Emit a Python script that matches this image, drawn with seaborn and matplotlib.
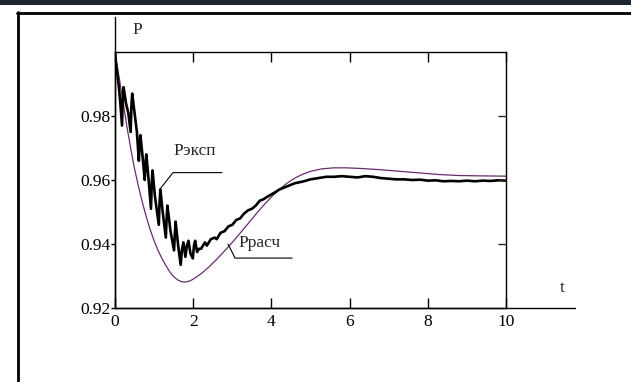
import matplotlib
matplotlib.use("Agg")
import matplotlib.pyplot as plt
import seaborn as sns
import pandas as pd
from matplotlib.lines import Line2D
from matplotlib.patches import Rectangle

# ---- data ----
t_exp = [0.00, 0.02, 0.06, 0.10, 0.13, 0.18, 0.20, 0.22, 0.28, 0.34, 0.40, 0.42, 0.44,
         0.50, 0.56, 0.61, 0.63, 0.65, 0.70, 0.76, 0.78, 0.80, 0.86, 0.92, 0.94, 0.96,
         1.02, 1.12, 1.14, 1.16, 1.22, 1.30, 1.32, 1.34, 1.42, 1.51, 1.53, 1.55, 1.62,
         1.68, 1.71, 1.75, 1.80, 1.84, 1.88, 1.93, 1.99, 2.02, 2.05, 2.10, 2.15, 2.20,
         2.30, 2.35, 2.45, 2.55, 2.60, 2.70, 2.80, 2.90, 3.00, 3.10, 3.20, 3.30, 3.40,
         3.50, 3.60, 3.70, 3.80, 3.90, 4.00, 4.10, 4.20, 4.30, 4.40, 4.50, 4.60, 4.80,
         5.00, 5.20, 5.40, 5.60, 5.80, 6.00, 6.20, 6.40, 6.60, 6.80, 7.00, 7.20, 7.40,
         7.60, 7.80, 8.00, 8.20, 8.40, 8.60, 8.80, 9.00, 9.20, 9.40, 9.60, 9.80, 10.00]
p_exp = [1.000, 0.997, 0.993, 0.989, 0.985, 0.977, 0.986, 0.989, 0.984, 0.981, 0.975, 0.983, 0.987,
         0.981, 0.975, 0.966, 0.971, 0.974, 0.968, 0.960, 0.965, 0.968, 0.960, 0.951, 0.959, 0.963,
         0.955, 0.946, 0.953, 0.957, 0.950, 0.942, 0.948, 0.952, 0.944, 0.938, 0.943, 0.947, 0.939,
         0.9335, 0.938, 0.9405, 0.936, 0.9395, 0.941, 0.937, 0.9355, 0.9395, 0.941, 0.9375, 0.9385, 0.9385,
         0.9405, 0.9395, 0.9415, 0.9420, 0.9415, 0.9435, 0.9440, 0.9455, 0.9460, 0.9475, 0.9480, 0.9495, 0.9505,
         0.9510, 0.9520, 0.9535, 0.9540, 0.9548, 0.9555, 0.9562, 0.9570, 0.9575, 0.9580, 0.9585, 0.9590, 0.9595,
         0.9602, 0.9606, 0.9610, 0.9610, 0.9612, 0.9610, 0.9608, 0.9612, 0.9610, 0.9606, 0.9604, 0.9602, 0.9602,
         0.9600, 0.9601, 0.9598, 0.9599, 0.9596, 0.9597, 0.9596, 0.9598, 0.9596, 0.9598, 0.9597, 0.9599, 0.9598]

t_calc = [0.0, 0.1, 0.2, 0.3, 0.4, 0.5, 0.6, 0.7, 0.8, 0.9, 1.0, 1.1, 1.2, 1.3, 1.4, 1.5,
          1.6, 1.7, 1.8, 1.9, 2.0, 2.2, 2.4, 2.6, 2.8, 3.0, 3.2, 3.4, 3.6, 3.8, 4.0, 4.2,
          4.4, 4.6, 4.8, 5.0, 5.3, 5.6, 5.9, 6.3, 6.8, 7.3, 7.8, 8.3, 8.8, 9.3, 10.0]
p_calc = [1.0, 0.9925, 0.985, 0.977, 0.970, 0.9635, 0.958, 0.953, 0.9485, 0.9445, 0.941, 0.938,
          0.9355, 0.9333, 0.9313, 0.9298, 0.9288, 0.9282, 0.9281, 0.9284, 0.9290, 0.9307, 0.9328,
          0.9352, 0.9378, 0.9405, 0.9434, 0.9463, 0.9493, 0.9521, 0.9547, 0.9570, 0.9590, 0.9606,
          0.9618, 0.9627, 0.9635, 0.9638, 0.9638, 0.9636, 0.9632, 0.9627, 0.9622, 0.9617, 0.9614,
          0.9613, 0.9612]

x_ticks = [0, 2, 4, 6, 8, 10]
y_ticks = [0.92, 0.94, 0.96, 0.98]
y_tick_labels = ["0.92", "0.94", "0.96", "0.98"]
label_exp = "Рэксп"
label_calc = "Ррасч"

sns.set_style("white")
plt.rcParams["font.family"] = ["Liberation Serif", "DejaVu Serif"]

W, H = 631, 382
fig = plt.figure(figsize=(W / 100, H / 100), dpi=100)
fig.patch.set_facecolor("white")

def fx(px):
    return px / W

def fy(py):
    return 1 - py / H

# screenshot frame decorations
fig.add_artist(Rectangle((0, fy(5)), 1, 5 / H, transform=fig.transFigure,
                         facecolor="#1e2530", edgecolor="none"))
fig.add_artist(Line2D([fx(17), 1], [fy(12.5), fy(12.5)], transform=fig.transFigure,
                      color="black", lw=2))
fig.add_artist(Line2D([fx(17.5), fx(17.5)], [fy(12), 0], transform=fig.transFigure,
                      color="black", lw=2))

left, right, top, bottom = 115, 506, 52, 308
ax = fig.add_axes([fx(left), fy(bottom), (right - left) / W, (bottom - top) / H])
ax.set_facecolor("white")

df_exp = pd.DataFrame({"t": t_exp, "P": p_exp})
df_calc = pd.DataFrame({"t": t_calc, "P": p_calc})

sns.lineplot(data=df_calc, x="t", y="P", ax=ax, color="#6a2c6e", lw=0.9,
             estimator=None, sort=False)
sns.lineplot(data=df_exp, x="t", y="P", ax=ax, color="black", lw=1.9,
             estimator=None, sort=False)

ax.set_xlim(0, 10)
ax.set_ylim(0.92, 1.0)
ax.set_xlabel("")
ax.set_ylabel("")

for s in ax.spines.values():
    s.set_visible(True)
    s.set_color("black")
    s.set_linewidth(1.0)

FS = 12.5
ax.set_xticks(x_ticks)
ax.set_xticklabels([str(v) for v in x_ticks])
ax.set_yticks(y_ticks)
ax.set_yticklabels(y_tick_labels)
ax.tick_params(axis="x", direction="in", length=7, width=1, top=True, bottom=True,
               labelsize=FS, pad=4, colors="black")
ax.tick_params(axis="y", direction="out", length=3, width=1, left=True, right=False,
               labelsize=FS, pad=0.5, colors="black")

# right-side inward ticks
ax2 = ax.twinx()
ax2.set_ylim(0.92, 1.0)
ax2.set_yticks([0.94, 0.96, 0.98])
ax2.tick_params(axis="y", direction="in", length=6, width=1, labelright=False)
for s in ax2.spines.values():
    s.set_visible(False)

# extended axis lines
ax.add_line(Line2D([0, 0], [0, (bottom - 17) / (bottom - top)], transform=ax.transAxes,
                   color="black", lw=1.0, clip_on=False))
ax.add_line(Line2D([0, (575 - left) / (right - left)], [0, 0], transform=ax.transAxes,
                   color="black", lw=1.0, clip_on=False))

# axis names
fig.text(fx(137), fy(30), "P", fontsize=FS, ha="center", va="center")
fig.text(fx(562), fy(288), "t", fontsize=FS, ha="center", va="center")

# annotations
ax.text(1.50, 0.9678, label_exp, fontsize=FS, ha="left", va="baseline")
ax.plot([1.133, 1.483, 2.737], [0.9569, 0.9623, 0.9623], color="black", lw=0.8,
        clip_on=False)
ax.text(3.17, 0.9391, label_calc, fontsize=FS, ha="left", va="baseline")
ax.plot([2.89, 3.07, 4.53], [0.9400, 0.9356, 0.9356], color="black", lw=0.8,
        clip_on=False)

fig.savefig("out.png", dpi=100, facecolor="white")
